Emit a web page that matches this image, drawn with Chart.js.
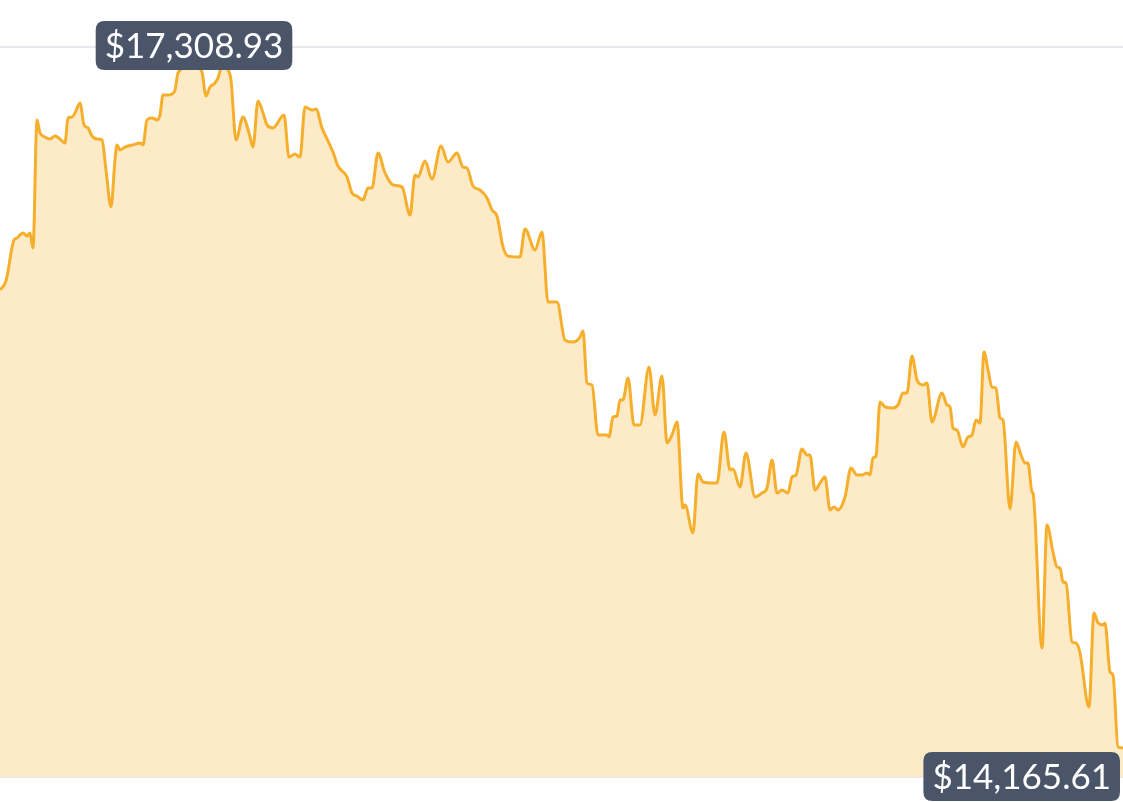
<!DOCTYPE html>
<html lang="en">
  <head>
    <meta charset="UTF-8" />
    <title>Price chart</title>
    <style>
      body {
        margin: 0;
        background-color: #ffffff;
        font-family: Lato, "Open Sans", sans-serif;
        overflow: hidden;
      }
      .chart-container {
        position: relative;
        width: 1123px;
        height: 802px;
      }
    </style>
  </head>
  <body>
    <div class="chart-container">
      <canvas id="priceChart" width="1123" height="802"></canvas>
    </div>

    <script src="https://cdn.jsdelivr.net/npm/chart.js"></script>
    <script>
      // sample position along the period (left edge = 0, right edge = 1123)
      const steps = [
        0, 6, 14, 17, 20, 23, 27, 30, 33, 37, 40, 45, 50, 55, 60, 65, 68, 72, 75, 80,
        84, 88, 92, 97, 102, 106, 111, 115, 117, 120, 125, 133, 140, 143, 147, 152, 157, 160, 163, 167,
        172, 175, 178, 184, 194, 198, 202, 206, 210, 214, 218, 222, 228, 231, 236, 243, 249, 253, 258, 263,
        267, 273, 284, 289, 295, 300, 305, 312, 316, 322, 328, 333, 338, 347, 352, 357, 363, 368, 372, 378,
        385, 393, 402, 410, 415, 418, 425, 432, 441, 448, 457, 463, 467, 473, 480, 487, 492, 497, 503, 508,
        520, 525, 535, 542, 548, 557, 565, 573, 580, 583, 587, 592, 598, 607, 609, 613, 617, 620, 623, 628,
        634, 640, 649, 655, 662, 667, 672, 677, 683, 685, 693, 698, 703, 713, 717, 724, 730, 733, 740, 746,
        755, 762, 767, 772, 777, 782, 788, 792, 796, 802, 807, 810, 815, 820, 825, 830, 834, 838, 845, 851,
        857, 862, 867, 870, 873, 876, 880, 885, 893, 898, 903, 907, 912, 917, 923, 927, 932, 942, 947, 950,
        953, 957, 963, 968, 972, 976, 980, 984, 988, 992, 996, 1000, 1003, 1010, 1016, 1021, 1025, 1028, 1032, 1033,
        1042, 1047, 1053, 1057, 1060, 1063, 1066, 1072, 1076, 1080, 1089, 1094, 1098, 1103, 1105, 1110, 1113, 1118, 1123
      ];

      // price in USD at each sample
      const prices = [
        16270, 16312, 16500, 16509, 16523, 16532, 16518, 16532, 16463, 17052, 16992, 16973, 16964, 16978, 16964, 16946, 17061, 17065, 17084, 17130,
        17029, 17015, 16978, 16964, 16960, 16822, 16652, 16868, 16937, 16914, 16927, 16937, 16946, 16937, 17052, 17061, 17052, 17074, 17166, 17166,
        17171, 17189, 17267, 17290, 17308.93, 17292, 17272, 17162, 17203, 17217, 17244, 17300, 17281, 17235, 16960, 17065, 16992, 16927, 17139, 17084,
        17029, 17015, 17074, 16881, 16895, 16881, 17111, 17097, 17102, 17015, 16955, 16904, 16840, 16790, 16716, 16702, 16684, 16739, 16739, 16900,
        16808, 16753, 16744, 16615, 16799, 16790, 16863, 16780, 16932, 16858, 16900, 16835, 16831, 16748, 16730, 16693, 16638, 16610, 16468, 16426,
        16422, 16551, 16454, 16537, 16215, 16215, 16040, 16031, 16054, 16082, 15843, 15834, 15604, 15604, 15595, 15687, 15691, 15765, 15765, 15866,
        15650, 15650, 15916, 15696, 15875, 15567, 15604, 15664, 15268, 15282, 15154, 15425, 15388, 15383, 15383, 15618, 15443, 15448, 15365, 15521,
        15319, 15337, 15360, 15489, 15337, 15351, 15337, 15411, 15420, 15540, 15512, 15512, 15351, 15383, 15411, 15259, 15273, 15259, 15319, 15452,
        15420, 15420, 15429, 15420, 15498, 15507, 15756, 15733, 15728, 15742, 15797, 15797, 15967, 15857, 15834, 15843, 15664, 15797, 15742, 15733,
        15636, 15627, 15549, 15595, 15604, 15673, 15659, 15985, 15903, 15824, 15820, 15682, 15673, 15264, 15572, 15512, 15475, 15475, 15342, 15337,
        14625, 15190, 15066, 14997, 14993, 14928, 14924, 14653, 14648, 14602, 14354, 14786, 14740, 14731, 14740, 14515, 14501, 14170, 14165.61
      ];

      const yMin = 14032;
      const yMax = 17387;

      const points = steps.map((s, i) => ({ x: s, y: prices[i] }));

      function money(v) {
        return '$' + v.toLocaleString('en-US', { minimumFractionDigits: 2, maximumFractionDigits: 2 });
      }

      function roundRect(ctx, x, y, w, h, r) {
        ctx.beginPath();
        ctx.moveTo(x + r, y);
        ctx.lineTo(x + w - r, y);
        ctx.quadraticCurveTo(x + w, y, x + w, y + r);
        ctx.lineTo(x + w, y + h - r);
        ctx.quadraticCurveTo(x + w, y + h, x + w - r, y + h);
        ctx.lineTo(x + r, y + h);
        ctx.quadraticCurveTo(x, y + h, x, y + h - r);
        ctx.lineTo(x, y + r);
        ctx.quadraticCurveTo(x, y, x + r, y);
        ctx.closePath();
      }

      // draws the high / low price badges
      const badgePlugin = {
        id: 'badges',
        afterDatasetsDraw(chart) {
          const ctx = chart.ctx;
          const meta = chart.getDatasetMeta(0);
          let hi = 0, lo = 0;
          prices.forEach((p, i) => {
            if (p > prices[hi]) hi = i;
            if (p < prices[lo]) lo = i;
          });

          ctx.save();
          ctx.font = '35px Lato, "Open Sans", sans-serif';
          ctx.textBaseline = 'middle';
          ctx.textAlign = 'center';

          const draw = (idx, above) => {
            const pt = meta.data[idx];
            const text = money(prices[idx]);
            const w = ctx.measureText(text).width + 18;
            const h = 49;
            let bx = pt.x - w / 2;
            if (bx < 0) bx = 0;
            if (bx + w > chart.width - 3) bx = chart.width - 3 - w;
            const by = above ? pt.y - 43 : pt.y + 4;
            ctx.fillStyle = '#4a556a';
            roundRect(ctx, bx, by, w, h, 9);
            ctx.fill();
            ctx.fillStyle = '#ffffff';
            ctx.fillText(text, bx + w / 2, by + h / 2 + 1);
          };

          draw(hi, true);
          draw(lo, false);
          ctx.restore();
        }
      };

      const ctx = document.getElementById('priceChart').getContext('2d');
      const priceChart = new Chart(ctx, {
        type: 'line',
        data: {
          datasets: [
            {
              data: points,
              borderColor: '#f6ae2d',
              backgroundColor: '#fdebc8',
              borderWidth: 3,
              fill: 'start',
              pointRadius: 0,
              cubicInterpolationMode: 'monotone'
            }
          ]
        },
        options: {
          responsive: false,
          animation: false,
          layout: {
            padding: { top: 47, bottom: 25, left: 0, right: 0 }
          },
          plugins: {
            legend: { display: false },
            tooltip: { enabled: false }
          },
          scales: {
            x: {
              type: 'linear',
              min: 0,
              max: 1123,
              display: false
            },
            y: {
              min: yMin,
              max: yMax,
              afterBuildTicks: (scale) => {
                scale.ticks = [{ value: yMin }, { value: yMax }];
              },
              ticks: { display: false },
              border: { display: false },
              grid: {
                color: '#e7e8ee',
                lineWidth: 2,
                drawTicks: false
              }
            }
          }
        },
        plugins: [badgePlugin]
      });
    </script>
  </body>
</html>
